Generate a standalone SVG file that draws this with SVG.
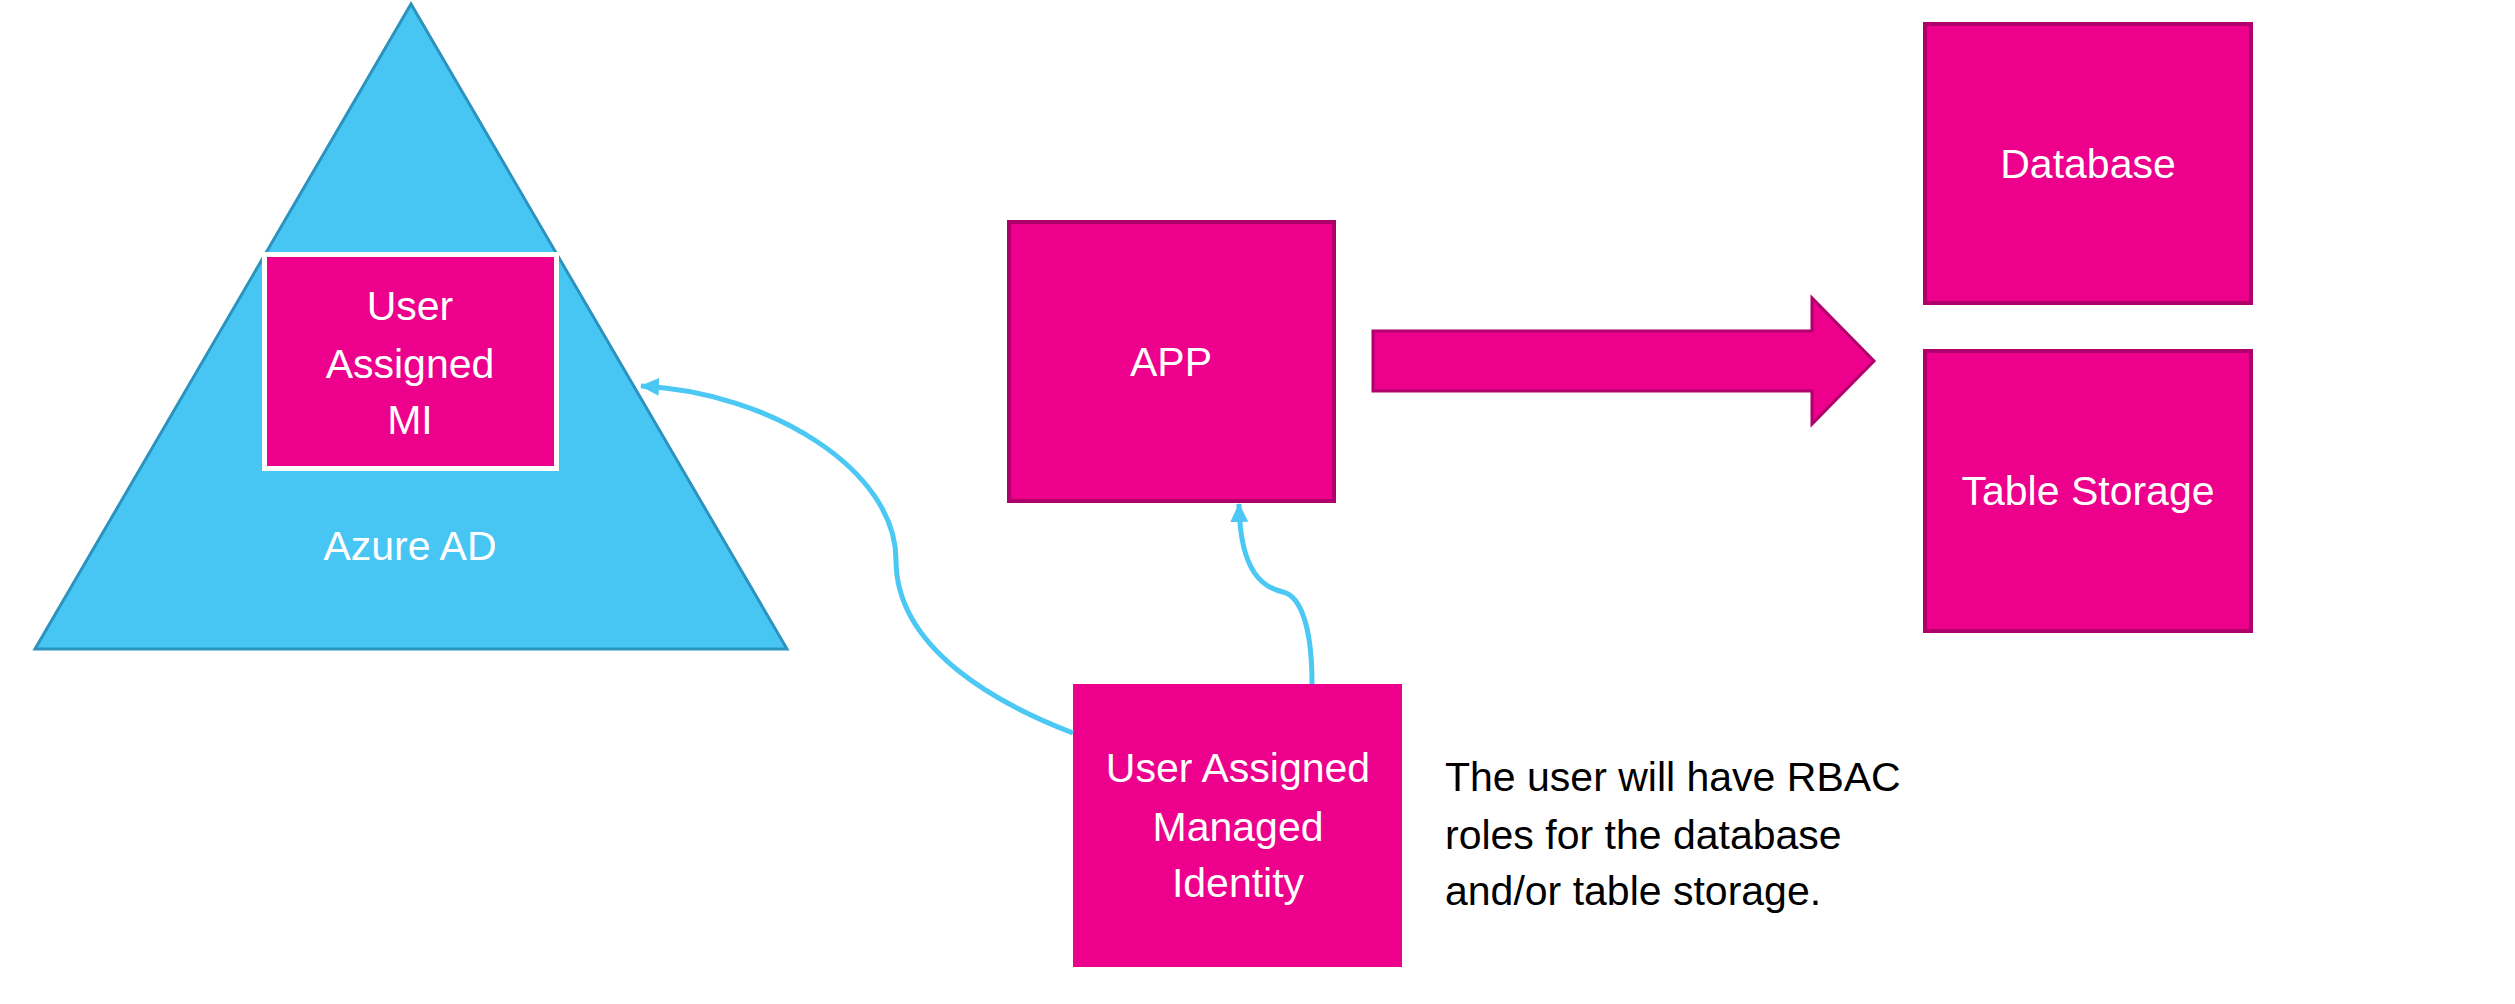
<svg xmlns="http://www.w3.org/2000/svg" width="2515" height="1004" viewBox="0 0 2515 1004">
  <style>
    .lbl { font-family: "Liberation Sans", Arial, sans-serif; font-size: 41px; fill: #ffffff; text-anchor: middle; }
    .note { font-family: "Liberation Sans", Arial, sans-serif; font-size: 41px; fill: #000000; }
    .box { fill: #EC008C; stroke: #B0006B; stroke-width: 4; }
    .conn { fill: none; stroke: #4CC8F4; stroke-width: 5; }
  </style>
  <defs>
    <marker id="ah" markerUnits="userSpaceOnUse" markerWidth="20" markerHeight="20" viewBox="0 0 20 20" refX="18" refY="10" orient="auto">
      <path d="M0,1 L19,10 L0,19 Z" fill="#4CC8F4"/>
    </marker>
  </defs>
  <rect width="2515" height="1004" fill="#ffffff"/>

  <g id="azure-ad">
    <polygon points="411,4 35,649 787,649" fill="#47C6F4" stroke="#2C93BE" stroke-width="3"/>
    <text class="lbl" x="410" y="560">Azure AD</text>
  </g>

  <g id="user-assigned-mi">
    <rect x="264.5" y="254.5" width="292" height="214" fill="#EC008C" stroke="#ffffff" stroke-width="5"/>
    <text class="lbl" x="410" y="320">User</text>
    <text class="lbl" x="410" y="378">Assigned</text>
    <text class="lbl" x="410" y="434">MI</text>
  </g>

  <g id="app">
    <rect class="box" x="1009" y="222" width="325" height="279"/>
    <text class="lbl" x="1171" y="376">APP</text>
  </g>

  <g id="database">
    <rect class="box" x="1925" y="24" width="326" height="279"/>
    <text class="lbl" x="2088" y="178">Database</text>
  </g>

  <g id="table-storage">
    <rect class="box" x="1925" y="351" width="326" height="280"/>
    <text class="lbl" x="2088" y="505">Table Storage</text>
  </g>

  <g id="uami">
    <rect x="1073" y="684" width="329" height="283" fill="#EC008C"/>
    <text class="lbl" x="1238" y="782">User Assigned</text>
    <text class="lbl" x="1238" y="841">Managed</text>
    <text class="lbl" x="1238" y="897">Identity</text>
  </g>

  <g id="note">
    <text class="note" x="1445" y="791">The user will have RBAC</text>
    <text class="note" x="1445" y="849">roles for the database</text>
    <text class="note" x="1445" y="905">and/or table storage.</text>
  </g>

  <g id="connectors">
    <polygon id="big-arrow" points="1373,331 1812,331 1812,298 1874,361 1812,424 1812,391 1373,391" fill="#EC008C" stroke="#B0006B" stroke-width="3"/>
    <path class="conn" d="M1073,733 C1000,705 896,650 896,560 C896,470 770,392 641,386" marker-end="url(#ah)"/>
    <path class="conn" d="M1312,684 C1312,625 1300,596 1283,592 C1265,588 1240,575 1239,504" marker-end="url(#ah)"/>
  </g>
</svg>
